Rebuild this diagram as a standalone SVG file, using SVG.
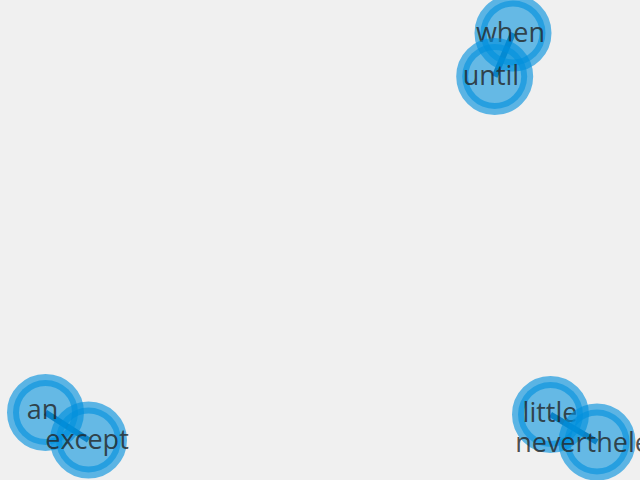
<svg xmlns="http://www.w3.org/2000/svg" width="640" height="480" viewBox="0 0 640 480">
<style>
.node circle{fill:#0090dd;fill-opacity:0.58;stroke:#0090dd;stroke-opacity:0.62;stroke-width:12}
.node text{font-family:"Open Sans","Noto Sans",sans-serif;font-size:27px;fill:#222;fill-opacity:0.8;text-anchor:middle}
.edge{stroke:#1a6fa8;stroke-width:6;stroke-linecap:butt}
</style>
<rect width="640" height="480" fill="#f0f0f0"/>
<g id="connectors">
<line class="edge" x1="513" y1="33" x2="494.7" y2="76.5"/>
<line class="edge" x1="45.5" y1="412.5" x2="88.5" y2="440"/>
<line class="edge" x1="550.5" y1="414.5" x2="597" y2="442"/>
</g>
<g id="node-when" class="node"><circle cx="513" cy="33" r="32.5"/><text x="510.5" y="42">when</text></g>
<g id="node-until" class="node"><circle cx="494.7" cy="76.5" r="32.5"/><text x="491" y="85">until</text></g>
<g id="node-an" class="node"><circle cx="45.5" cy="412.5" r="32.5"/><text x="42.5" y="419">an</text></g>
<g id="node-except" class="node"><circle cx="88.5" cy="440" r="32.5"/><text x="87" y="449">except</text></g>
<g id="node-little" class="node"><circle cx="550.5" cy="414.5" r="32.5"/><text x="550" y="422">little</text></g>
<g id="node-nevertheless" class="node"><circle cx="597" cy="442" r="32.5"/><text x="595.4" y="452">nevertheless</text></g>
</svg>
